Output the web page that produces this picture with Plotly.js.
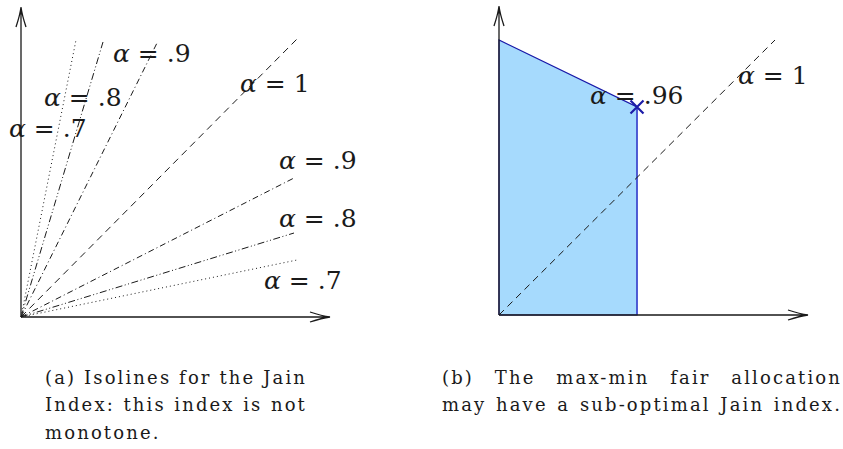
<!DOCTYPE html>
<html>
<head>
<meta charset="utf-8">
<script src="https://cdn.plot.ly/plotly-3.0.1.min.js"></script>
<style>
  html, body { margin: 0; padding: 0; background: #fff; }
  #chart { width: 843px; height: 449px; }
</style>
</head>
<body>
<div id="chart"></div>
<script>
// Panel (a): isolines from the origin, end points
const isoEndX = [55, 82, 136, 276, 273, 273, 276];
const isoEndY = [277, 275, 274, 278, 139, 84, 57];
const isoDash = ['dot', 'dashdotdot', 'dashdot', 'dash', 'dashdot', 'dashdotdot', 'dot'];
const isoLabels = ['.7', '.8', '.9', '1', '.9', '.8', '.7'];
const isoLabelX = [27, 62, 131, 254, 297, 297, 282];
const isoLabelY = [189, 220, 264, 234, 157, 99, 37];

// Panel (b): feasible region and max-min point
const regionX = [0, 0, 138, 138];
const regionY = [0, 275, 208, 0];
const maxMinX = [138];
const maxMinY = [208];
const fairEndX = [276];
const fairEndY = [275];
const bLabels = ['.96', '1'];
const bLabelX = [138, 274];
const bLabelY = [220, 240];

// captions, with the width each justified line is spread to (0 = natural)
const captionA = ['(a) Isolines for the Jain', 'Index: this index is not', 'monotone.'];
const captionAWidth = [262, 262, 0];
const captionB = ['(b) The max-min fair allocation', 'may have a sub-optimal Jain index.'];
const captionBWidth = [400, 400];

const dashMap = {
  dot: '1px,3px',
  dash: '7px,5px',
  dashdot: '6px,3px,1px,3px',
  dashdotdot: '7px,2.5px,1px,2.5px,1px,2.5px'
};

const serif = 'DejaVu Serif, serif';
const ink = '#1a1a1a';
const pad = 12; // room for the arrow heads inside each subplot

const traces = [];
isoEndX.forEach((ex, i) => {
  traces.push({
    type: 'scatter', mode: 'lines', xaxis: 'x', yaxis: 'y',
    x: [0, ex], y: [0, isoEndY[i]],
    line: { color: ink, width: 1, dash: dashMap[isoDash[i]] },
    hoverinfo: 'skip', showlegend: false
  });
});

// region fill
traces.push({
  type: 'scatter', mode: 'lines', xaxis: 'x2', yaxis: 'y2',
  x: regionX.concat([regionX[0]]), y: regionY.concat([regionY[0]]),
  fill: 'toself', fillcolor: '#a6dafd',
  line: { color: '#1818a8', width: 1.2 },
  hoverinfo: 'skip', showlegend: false
});
// right edge, lighter blue
traces.push({
  type: 'scatter', mode: 'lines', xaxis: 'x2', yaxis: 'y2',
  x: regionX.slice(2), y: regionY.slice(2),
  line: { color: '#4a58d6', width: 1.6 },
  hoverinfo: 'skip', showlegend: false
});
// alpha = 1 diagonal
traces.push({
  type: 'scatter', mode: 'lines', xaxis: 'x2', yaxis: 'y2',
  x: [0, fairEndX[0]], y: [0, fairEndY[0]],
  line: { color: ink, width: 1, dash: dashMap.dash },
  hoverinfo: 'skip', showlegend: false
});
traces.push({
  type: 'scatter', mode: 'markers', xaxis: 'x2', yaxis: 'y2',
  x: maxMinX, y: maxMinY,
  marker: { symbol: 'x-thin', size: 13, line: { width: 2.2, color: '#1c1ca8' } },
  hoverinfo: 'skip', showlegend: false
});

const annotations = [];
const labelFont = { family: serif, size: 25, color: ink };
isoLabels.forEach((t, i) => {
  annotations.push({
    xref: 'x', yref: 'y', x: isoLabelX[i], y: isoLabelY[i],
    text: '<i>α</i> = ' + t, showarrow: false,
    xanchor: 'center', yanchor: 'middle', font: labelFont
  });
});
bLabels.forEach((t, i) => {
  annotations.push({
    xref: 'x2', yref: 'y2', x: bLabelX[i], y: bLabelY[i],
    text: '<i>α</i> = ' + t, showarrow: false,
    xanchor: 'center', yanchor: 'middle', font: labelFont
  });
});
const capY0 = 377, capStep = 27.5;
const capFont = { family: serif, size: 18, color: ink };
const capLines = [];
captionA.forEach((t, i) => {
  capLines.push({ text: t, width: captionAWidth[i] });
  annotations.push({
    xref: 'paper', yref: 'paper', x: 43 / 843, y: 1 - (capY0 + i * capStep) / 449,
    text: t, showarrow: false, xanchor: 'left', yanchor: 'middle', align: 'left', font: capFont
  });
});
captionB.forEach((t, i) => {
  capLines.push({ text: t, width: captionBWidth[i] });
  annotations.push({
    xref: 'paper', yref: 'paper', x: 440 / 843, y: 1 - (capY0 + i * capStep) / 449,
    text: t, showarrow: false, xanchor: 'left', yanchor: 'middle', align: 'left', font: capFont
  });
});

// axes with open arrow heads, in each panel's own units
function axisShapes(xr, yr, xlen, ylen) {
  const s = { type: 'path', xref: xr, yref: yr, line: { color: ink, width: 1.3 } };
  return [
    Object.assign({}, s, { path: `M0,0 L${xlen},0 M${xlen - 20},5 Q${xlen - 8},1 ${xlen},0 Q${xlen - 8},-1 ${xlen - 20},-5` }),
    Object.assign({}, s, { path: `M0,0 L0,${ylen} M5,${ylen - 20} Q1,${ylen - 8} 0,${ylen} Q-1,${ylen - 8} -5,${ylen - 20}` })
  ];
}

const layout = {
  width: 843, height: 449,
  margin: { l: 0, r: 0, t: 0, b: 0 },
  paper_bgcolor: '#fff', plot_bgcolor: 'rgba(0,0,0,0)',
  xaxis: { domain: [(21 - pad) / 843, 341 / 843], range: [-pad, 320], visible: false },
  yaxis: { domain: [(132 - pad) / 449, 447 / 449], range: [-pad, 315], visible: false },
  xaxis2: { domain: [(499 - pad) / 843, 829 / 843], range: [-pad, 330], visible: false, anchor: 'y2' },
  yaxis2: { domain: [(134 - pad) / 449, 447 / 449], range: [-pad, 313], visible: false, anchor: 'x2' },
  shapes: axisShapes('x', 'y', 309, 310).concat(axisShapes('x2', 'y2', 309, 309)),
  annotations: annotations
};

Plotly.newPlot('chart', traces, layout, { displayModeBar: false, staticPlot: true }).then(gd => {
  // the caption face is wider than any installed serif: spread the letters
  // evenly (taken from the first line), then justify full lines with word spacing
  const nodes = Array.from(gd.querySelectorAll('.annotation-text'));
  const find = t => nodes.find(n => n.textContent === t);
  const first = find(captionA[0]);
  const ls = (captionAWidth[0] - first.getComputedTextLength()) / captionA[0].length;
  capLines.forEach(c => {
    const n = find(c.text);
    if (!n) return;
    n.style.letterSpacing = ls + 'px';
    if (c.width) {
      const w = n.getComputedTextLength();
      const spaces = c.text.split(' ').length - 1;
      n.style.wordSpacing = ((c.width - w) / spaces) + 'px';
    }
  });
});
</script>
</body>
</html>
